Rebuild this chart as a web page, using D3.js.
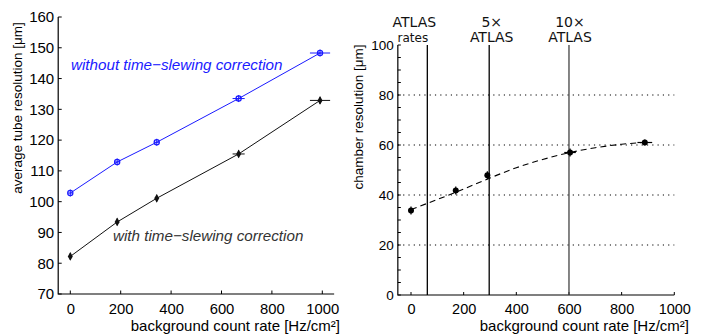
<!DOCTYPE html>
<html>
<head>
<meta charset="utf-8">
<script src="https://cdn.jsdelivr.net/npm/d3@7"></script>
<style>
  body { margin: 0; background: #fff; }
  svg { display: block; }
  text { font-family: "Liberation Sans", Arial, sans-serif; fill: #000; }
</style>
</head>
<body>
<div id="chart"></div>
<script>
// left panel: tube resolution vs. background rate
var rateLeft = [0, 186, 343, 668, 991];
var withoutCorr = [102.8, 112.9, 119.3, 133.5, 148.3];
var withCorr = [82.2, 93.4, 101.1, 115.5, 132.9];
var rateErrLeft = [0, 0, 0, 24, 40];
var leftYTicks = [70, 80, 90, 100, 110, 120, 130, 140, 150, 160];
var xTicks = [0, 200, 400, 600, 800, 1000];

// right panel: chamber resolution vs. background rate
var rateRight = [0, 170, 290, 604, 888];
var chamberRes = [33.8, 41.8, 47.9, 57.0, 61.0];
var chamberErr = [1.6, 1.6, 1.6, 1.6, 1.2];
var rateErrRight = [0, 0, 0, 22, 28];
var fitRate = [0, 100, 200, 300, 400, 500, 600, 700, 800, 880];
var fitRes = [34.2, 38.2, 42.4, 46.8, 50.9, 54.2, 56.9, 58.9, 60.3, 61.0];
var rightYTicks = [0, 20, 40, 60, 80, 100];
var gridLevels = [20, 40, 60, 80];
var atlasRates = [62, 297, 600];
var atlasTop = ["ATLAS", "5\u00d7", "10\u00d7"];
var atlasBottom = ["rates", "ATLAS", "ATLAS"];

var W = 706, H = 336;
var fmt = d3.format("d");
var svg = d3.select("#chart").append("svg")
    .attr("width", W)
    .attr("height", H);

// ---------- left ----------
var xL = d3.scaleLinear().domain([0, 1000]).range([70.3, 322.3]);
var yL = d3.scaleLinear().domain([70, 160]).range([294, 17]);
var gL = svg.append("g");

gL.append("path")
    .attr("d", "M" + xL(-48) + "," + yL(160) + "V" + yL(70) + "H" + xL(1047))
    .attr("fill", "none")
    .attr("stroke", "#000")
    .attr("stroke-width", 1.2);

var axL = gL.append("g").attr("transform", "translate(0," + yL(70) + ")")
    .call(d3.axisBottom(xL).tickValues(xTicks).tickFormat(fmt).tickSize(0).tickPadding(9));
axL.select(".domain").remove();
axL.selectAll("text").style("font-size", "14.8px").attr("dy", "0.71em");
gL.selectAll(".xtl").data(xTicks).enter().append("line")
    .attr("x1", function (d) { return xL(d); })
    .attr("x2", function (d) { return xL(d); })
    .attr("y1", yL(70)).attr("y2", yL(70) - 3.5)
    .attr("stroke", "#000");

var ayL = gL.append("g").attr("transform", "translate(" + xL(-48) + ",0)")
    .call(d3.axisLeft(yL).tickValues(leftYTicks).tickSize(0).tickPadding(4));
ayL.select(".domain").remove();
ayL.selectAll("text").style("font-size", "15px");
gL.selectAll(".ytl").data(leftYTicks).enter().append("line")
    .attr("x1", xL(-48)).attr("x2", xL(-48) + 3.5)
    .attr("y1", function (d) { return yL(d); })
    .attr("y2", function (d) { return yL(d); })
    .attr("stroke", "#000");

function drawSeries(g, vals, color, filled) {
    var pts = rateLeft.map(function (r, i) { return [r, vals[i], rateErrLeft[i]]; });
    g.append("path")
        .attr("d", d3.line().x(function (d) { return xL(d[0]); }).y(function (d) { return yL(d[1]); })(pts))
        .attr("fill", "none").attr("stroke", color).attr("stroke-width", 1);
    pts.forEach(function (p) {
        var cx = xL(p[0]), cy = yL(p[1]);
        if (p[2] > 0) {
            g.append("line").attr("x1", xL(p[0] - p[2])).attr("x2", xL(p[0] + p[2]))
                .attr("y1", cy).attr("y2", cy).attr("stroke", color).attr("stroke-width", 1);
        }
        g.append("line").attr("x1", cx).attr("x2", cx).attr("y1", cy - 3.5).attr("y2", cy + 3.5)
            .attr("stroke", color).attr("stroke-width", 1);
        if (filled) {
            g.append("path")
                .attr("d", d3.symbol(d3.symbolDiamond, 22)())
                .attr("transform", "translate(" + cx + "," + cy + ")")
                .attr("fill", color);
        } else {
            g.append("circle").attr("cx", cx).attr("cy", cy).attr("r", 2.6)
                .attr("fill", "none").attr("stroke", color).attr("stroke-width", 1.2);
            g.append("line").attr("x1", cx - 2.6).attr("x2", cx + 2.6).attr("y1", cy).attr("y2", cy)
                .attr("stroke", color).attr("stroke-width", 1);
        }
    });
}
drawSeries(gL, withoutCorr, "#1a1aff", false);
drawSeries(gL, withCorr, "#111", true);

gL.append("text").attr("x", 71).attr("y", 69.5)
    .style("font-size", "15.2px").style("font-style", "italic").style("fill", "#1a1aff")
    .text("without time\u2212slewing correction");
gL.append("text").attr("x", 113).attr("y", 241)
    .style("font-size", "15.2px").style("font-style", "italic").style("fill", "#333")
    .text("with time\u2212slewing correction");

gL.append("text")
    .attr("transform", "translate(22,108) rotate(-90)")
    .attr("text-anchor", "middle")
    .style("font-size", "13.5px")
    .text("average tube resolution [\u03bcm]");
gL.append("text").attr("x", 340).attr("y", 331)
    .attr("text-anchor", "end")
    .style("font-size", "15px")
    .text("background count rate [Hz/cm\u00b2]");

// ---------- right ----------
var xR = d3.scaleLinear().domain([0, 1000]).range([411, 674.3]);
var yR = d3.scaleLinear().domain([0, 100]).range([295, 45]);
var gR = svg.append("g");

gR.selectAll(".grid").data(gridLevels).enter().append("line")
    .attr("x1", xR(-50)).attr("x2", xR(1000))
    .attr("y1", function (d) { return yR(d); })
    .attr("y2", function (d) { return yR(d); })
    .attr("stroke", "#000").attr("stroke-width", 1.1)
    .attr("stroke-dasharray", "1.2,4.1");

gR.append("path")
    .attr("d", "M" + xR(-50) + "," + yR(100) + "V" + yR(0) + "H" + xR(1000))
    .attr("fill", "none").attr("stroke", "#000").attr("stroke-width", 1.2);

var axR = gR.append("g").attr("transform", "translate(0," + yR(0) + ")")
    .call(d3.axisBottom(xR).tickValues(xTicks).tickFormat(fmt).tickSize(0).tickPadding(8.5));
axR.select(".domain").remove();
axR.selectAll("text").style("font-size", "14.5px").attr("dy", "0.71em");
gR.selectAll(".xtr").data(xTicks).enter().append("line")
    .attr("x1", function (d) { return xR(d); })
    .attr("x2", function (d) { return xR(d); })
    .attr("y1", yR(0)).attr("y2", yR(0) - 3)
    .attr("stroke", "#000");

var ayR = gR.append("g").attr("transform", "translate(" + xR(-50) + ",0)")
    .call(d3.axisLeft(yR).tickValues(rightYTicks).tickSize(0).tickPadding(4));
ayR.select(".domain").remove();
ayR.selectAll("text").style("font-size", "13.5px");
gR.selectAll(".ytr").data(d3.range(0, 101, 5)).enter().append("line")
    .attr("x1", xR(-50)).attr("x2", xR(-50) + 3)
    .attr("y1", function (d) { return yR(d); })
    .attr("y2", function (d) { return yR(d); })
    .attr("stroke", "#000");

// ATLAS reference rates
gR.selectAll(".atl").data(atlasRates).enter().append("line")
    .attr("x1", function (d) { return xR(d); })
    .attr("x2", function (d) { return xR(d); })
    .attr("y1", yR(100)).attr("y2", yR(0))
    .attr("stroke", function (d, i) { return i === 2 ? "#444" : "#000"; })
    .attr("stroke-width", 1.3);
var labelShift = [-13, 2.5, 1];
atlasRates.forEach(function (r, i) {
    gR.append("text").attr("x", xR(r) + labelShift[i]).attr("y", 26.5)
        .attr("text-anchor", "middle")
        .style("font-family", "DejaVu Sans").style("font-size", "14px").style("fill", "#111")
        .text(atlasTop[i]);
    gR.append("text").attr("x", xR(r) + labelShift[i] + (i === 0 ? -1.5 : 0)).attr("y", 42.3)
        .attr("text-anchor", "middle")
        .style("font-family", "DejaVu Sans").style("font-size", i === 0 ? "12px" : "14px").style("fill", "#111")
        .text(atlasBottom[i]);
});

// fit curve
var fitPts = fitRate.map(function (r, i) { return [r, fitRes[i]]; });
gR.append("path")
    .attr("d", d3.line().curve(d3.curveMonotoneX)
        .x(function (d) { return xR(d[0]); }).y(function (d) { return yR(d[1]); })(fitPts))
    .attr("fill", "none").attr("stroke", "#000").attr("stroke-width", 1.1)
    .attr("stroke-dasharray", "6,4");

rateRight.forEach(function (r, i) {
    var cx = xR(r), cy = yR(chamberRes[i]);
    gR.append("line").attr("x1", cx).attr("x2", cx)
        .attr("y1", yR(chamberRes[i] + chamberErr[i])).attr("y2", yR(chamberRes[i] - chamberErr[i]))
        .attr("stroke", "#000").attr("stroke-width", 1.2);
    if (rateErrRight[i] > 0) {
        gR.append("line").attr("x1", xR(r - rateErrRight[i])).attr("x2", xR(r + rateErrRight[i]))
            .attr("y1", cy).attr("y2", cy).attr("stroke", "#000").attr("stroke-width", 1.2);
    }
    gR.append("circle").attr("cx", cx).attr("cy", cy).attr("r", 3).attr("fill", "#000");
});

gR.append("text")
    .attr("transform", "translate(363,117) rotate(-90)")
    .attr("text-anchor", "middle")
    .style("font-size", "13.5px")
    .text("chamber resolution [\u03bcm]");
gR.append("text").attr("x", 689).attr("y", 331)
    .attr("text-anchor", "end")
    .style("font-size", "15px")
    .text("background count rate [Hz/cm\u00b2]");
</script>
</body>
</html>
